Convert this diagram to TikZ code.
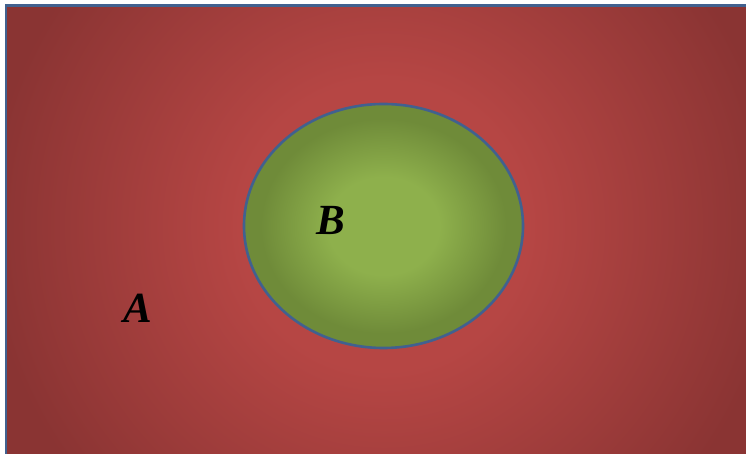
\documentclass[tikz,border=0pt]{standalone}
\usepackage{fontspec}
\setmainfont{Liberation Serif}
\usepackage{tikz}
\usepackage{xcolor}
\usetikzlibrary{positioning}
\definecolor{Set_RedIn}{HTML}{B64644}
\definecolor{Set_RedOut}{HTML}{8A3433}
\definecolor{Set_GreenIn}{HTML}{8EB04C}
\definecolor{Set_GreenOut}{HTML}{6F8B39}
\definecolor{Set_Edge}{HTML}{41618F}
\pgfdeclareradialshading{redglow}{\pgfpoint{0bp}{0bp}}{color(0bp)=(Set_RedIn); color(8bp)=(Set_RedIn); color(22bp)=(Set_RedOut); color(50bp)=(Set_RedOut)}
\pgfdeclareradialshading{greenglow}{\pgfpoint{0bp}{0bp}}{color(0bp)=(Set_GreenIn); color(10bp)=(Set_GreenIn); color(22bp)=(Set_GreenOut); color(50bp)=(Set_GreenOut)}

\begin{document}
\begin{tikzpicture}[x=1pt, y=1pt, setlabel/.style={font=\fontsize{43}{43}\selectfont\bfseries\itshape, inner sep=0pt}]
    \useasboundingbox (0,0) rectangle (746,454);

    % Set A (outer region)
    \begin{scope}
        \clip (6,-10) rectangle (760,448.5);
        \fill[Set_RedOut] (6,-10) rectangle (760,448.5);
        \shade[shading=redglow] (383.5,228) circle (450);
    \end{scope}
    \draw[Set_Edge, line width=2.8pt] (6,-10) -- (6,448.5) -- (760,448.5);

    % Set B (inner region)
    \shade[shading=greenglow] (383.5,228) ellipse (139.5 and 122);
    \draw[Set_Edge, line width=2.6pt] (383.5,228) ellipse (139.5 and 122);

    % Labels
    \node[setlabel] (labelA) at (138,146) {A};
    \node[setlabel] (labelB) at (331,234) {B};
\end{tikzpicture}
\end{document}
